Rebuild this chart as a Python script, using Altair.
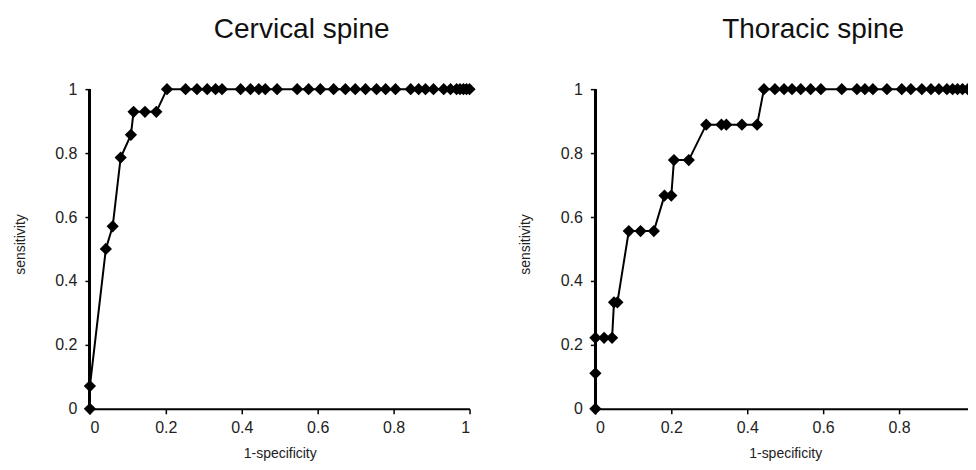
import altair as alt
import pandas as pd

# Cervical spine ROC points (1-specificity, sensitivity)
cerv_fpr = [0, 0, 0.042, 0.060, 0.081, 0.108, 0.115, 0.145, 0.175, 0.203, 0.252, 0.282,
            0.309, 0.331, 0.348, 0.397, 0.423, 0.445, 0.462, 0.493, 0.546, 0.576, 0.607,
            0.642, 0.673, 0.699, 0.726, 0.755, 0.779, 0.805, 0.845, 0.866, 0.884, 0.905,
            0.932, 0.950, 0.966, 0.975, 0.984, 0.992, 1.0]
cerv_sens = [0, 0.071, 0.5, 0.571, 0.786, 0.857, 0.929, 0.929, 0.929] + [1.0] * 32

# Thoracic spine ROC points
thor_fpr = [0, 0, 0, 0.023, 0.044, 0.049, 0.058, 0.088, 0.119, 0.154, 0.182, 0.200, 0.207,
            0.246, 0.292, 0.332, 0.345, 0.386, 0.426, 0.444, 0.473, 0.497, 0.518, 0.541,
            0.567, 0.594, 0.649, 0.689, 0.710, 0.731, 0.768, 0.807, 0.831, 0.860, 0.884,
            0.905, 0.926, 0.941, 0.954, 0.967, 0.981, 0.991, 1.0]
thor_sens = [0, 0.111, 0.222, 0.222, 0.222, 0.333, 0.333, 0.556, 0.556, 0.556, 0.667, 0.667,
             0.778, 0.778, 0.889, 0.889, 0.889, 0.889, 0.889] + [1.0] * 24

titles = ["Cervical spine", "Thoracic spine"]
tick_vals = [0, 0.2, 0.4, 0.6, 0.8, 1]

FONT = "Liberation Sans"


def frame(fpr, sens):
    return pd.DataFrame({"fpr": fpr, "sens": sens, "i": list(range(len(fpr)))})


def panel(df, title, dx, right=False):
    x_axis = alt.Axis(values=tick_vals, format="~g", title="1-specificity",
                      labelExpr="datum.value == 1 ? '' : datum.label" if right else "datum.label")
    x = alt.X("fpr:Q", scale=alt.Scale(domain=[0, 1], nice=False, zero=False), axis=x_axis)
    # small headroom above 1 so the top markers are never clipped
    y = alt.Y("sens:Q", scale=alt.Scale(domain=[0, 1.03125], nice=False),
              axis=alt.Axis(values=tick_vals, format="~g", title="sensitivity", domain=False))
    base = alt.Chart(df)
    yaxis_line = base.mark_rule(color="black", strokeWidth=2).encode(
        x=alt.datum(0), y=alt.datum(0), y2=alt.datum(1))
    line = base.mark_line(color="black", strokeWidth=2, clip=right).encode(x=x, y=y, order="i:Q")
    style = dict(shape="diamond", filled=True, size=150, color="black", opacity=1)
    if right:
        pts_a = base.transform_filter("datum.fpr < 0.5").mark_point(**style).encode(x=x, y=y)
        pts_b = base.transform_filter("datum.fpr >= 0.5").mark_point(clip=True, **style).encode(x=x, y=y)
        layers = [yaxis_line, line, pts_a, pts_b]
    else:
        pts = base.mark_point(**style).encode(x=x, y=y)
        layers = [yaxis_line, line, pts]
    return alt.layer(*layers).properties(
        width=380, height=330,
        title=alt.TitleParams(title, fontSize=28, font=FONT, fontWeight="normal",
                              color="#111", anchor="middle", frame="group", dx=dx, offset=35),
    )


left = panel(frame(cerv_fpr, cerv_sens), titles[0], 22)
right = panel(frame(thor_fpr, thor_sens), titles[1], 28, right=True)

chart = alt.hconcat(left, right, spacing=42).properties(
    padding={"left": 5, "right": -8, "top": 8, "bottom": 0}
).configure_view(stroke=None).configure_axis(
    grid=False, domainColor="black", domainWidth=2, tickColor="black", tickWidth=1.5,
    tickSize=5, labelFont=FONT, labelFontSize=16, labelColor="#222", labelPadding=8,
    titleFont=FONT, titleFontSize=14, titleFontWeight="normal", titleColor="#222",
).configure_axisX(labelAngle=0, titlePadding=11, labelPadding=6
).configure_axisY(titlePadding=27.5)

chart.save("out.html", embed_options={"renderer": "svg", "actions": False})
